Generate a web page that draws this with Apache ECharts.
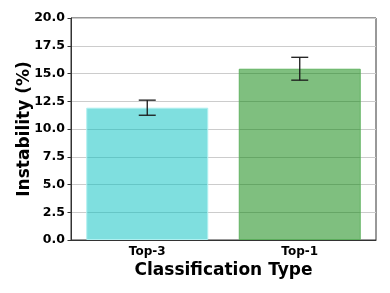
<!DOCTYPE html>
<html>
<head>
<meta charset="utf-8">
<script src="https://cdn.jsdelivr.net/npm/echarts@6/dist/echarts.min.js"></script>
<style>html,body{margin:0;padding:0;background:#fff}#c{width:390px;height:293px}</style>
</head>
<body>
<div id="c"></div>
<script>
var categories = ['Top-3', 'Top-1'];
var values = [11.92, 15.43];
var errors = [0.68, 1.03];
var yTicks = [0, 2.5, 5, 7.5, 10, 12.5, 15, 17.5, 20];

var fills = ['rgba(0,191,191,0.5)', 'rgba(0,128,0,0.5)'];
var edges = ['rgba(175,240,240,1)', 'rgba(90,175,90,0.9)'];
var FONT = 'DejaVu Sans';

var chart = echarts.init(document.getElementById('c'), null, {renderer: 'canvas'});
chart.setOption({
  animation: false,
  grid: {left: 71, right: 14, top: 18, bottom: 53, show: true, borderColor: '#333', borderWidth: 1, backgroundColor: 'transparent'},
  xAxis: {
    type: 'category',
    data: categories,
    boundaryGap: true,
    name: 'Classification Type',
    nameLocation: 'middle',
    nameGap: 22,
    nameMoveOverlap: false,
    nameTextStyle: {fontFamily: FONT, fontWeight: 'bold', fontSize: 17, color: '#000'},
    axisLine: {lineStyle: {color: '#333', width: 1}},
    axisTick: {alignWithLabel: true, length: 3.5, lineStyle: {color: '#333'}},
    axisLabel: {fontFamily: FONT, fontWeight: 'bold', fontSize: 12, color: '#000', margin: 6},
    splitLine: {show: false}
  },
  yAxis: {
    type: 'value',
    min: yTicks[0],
    max: yTicks[yTicks.length - 1],
    interval: 2.5,
    name: 'Instability (%)',
    nameLocation: 'middle',
    nameGap: 38,
    nameMoveOverlap: false,
    nameRotate: 90,
    nameTextStyle: {fontFamily: FONT, fontWeight: 'bold', fontSize: 17, color: '#000'},
    axisLine: {show: true, lineStyle: {color: '#333', width: 1}},
    axisTick: {show: true, length: 3.5, lineStyle: {color: '#333'}},
    axisLabel: {fontFamily: FONT, fontWeight: 'bold', fontSize: 12.5, color: '#000', margin: 6,
      formatter: function (v) { return v.toFixed(1); }},
    splitLine: {show: true, lineStyle: {color: '#cccccc', width: 1}}
  },
  series: [
    {
      type: 'bar',
      barWidth: '80%',
      data: values.map(function (v, i) {
        return {value: v, itemStyle: {color: fills[i], borderColor: edges[i], borderWidth: 1}};
      }),
      z: 2
    },
    {
      type: 'custom',
      z: 5,
      data: values.map(function (v, i) { return [i, v - errors[i], v + errors[i]]; }),
      renderItem: function (params, api) {
        var x = api.value(0);
        var lo = api.coord([x, api.value(1)]);
        var hi = api.coord([x, api.value(2)]);
        var hw = 8.5;
        var style = {stroke: '#1a1a1a', lineWidth: 1.3};
        return {
          type: 'group',
          children: [
            {type: 'line', shape: {x1: hi[0], y1: hi[1], x2: lo[0], y2: lo[1]}, style: style},
            {type: 'line', shape: {x1: hi[0] - hw, y1: hi[1], x2: hi[0] + hw, y2: hi[1]}, style: style},
            {type: 'line', shape: {x1: lo[0] - hw, y1: lo[1], x2: lo[0] + hw, y2: lo[1]}, style: style}
          ]
        };
      }
    }
  ]
});
</script>
</body>
</html>
